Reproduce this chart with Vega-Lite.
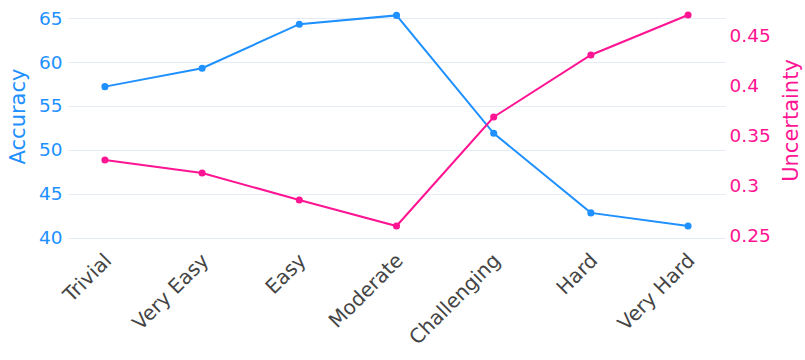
{
  "$schema": "https://vega.github.io/schema/vega-lite/v6.json",
  "width": 657,
  "height": 240,
  "autosize": "none",
  "padding": {"left": 68, "top": 5, "right": 80, "bottom": 115},
  "background": "white",
  "config": {
    "font": "DejaVu Sans",
    "view": {"stroke": null}
  },
  "data": {
    "values": [
      {"level": "Trivial", "accuracy": 57.2, "uncertainty": 0.325},
      {"level": "Very Easy", "accuracy": 59.3, "uncertainty": 0.312},
      {"level": "Easy", "accuracy": 64.3, "uncertainty": 0.285},
      {"level": "Moderate", "accuracy": 65.3, "uncertainty": 0.259},
      {"level": "Challenging", "accuracy": 51.9, "uncertainty": 0.368},
      {"level": "Hard", "accuracy": 42.85, "uncertainty": 0.43},
      {"level": "Very Hard", "accuracy": 41.35, "uncertainty": 0.47}
    ]
  },
  "encoding": {
    "x": {
      "field": "level",
      "type": "ordinal",
      "sort": null,
      "scale": {"type": "point", "padding": 0.38},
      "axis": {
        "title": null,
        "labelAngle": -45,
        "labelAlign": "right",
        "labelBaseline": "top",
        "labelFontSize": 20,
        "labelColor": "#444444",
        "labelOffset": -4,
        "domain": false,
        "ticks": false,
        "grid": false,
        "labelPadding": 5
      }
    }
  },
  "layer": [
    {
      "mark": {"type": "line", "color": "#1E90FF", "strokeWidth": 2, "point": {"filled": true, "size": 50, "color": "#1E90FF"}},
      "encoding": {
        "y": {
          "field": "accuracy",
          "type": "quantitative",
          "scale": {"domain": [39.2, 66.48], "nice": false, "zero": false},
          "axis": {
            "title": "Accuracy",
            "titleColor": "#1E90FF",
            "titleFontSize": 21,
            "titleFontWeight": "normal",
            "titlePadding": 10,
            "titleY": 111,
            "labelColor": "#1E90FF",
            "labelFontSize": 18.5,
            "values": [40, 45, 50, 55, 60, 65],
            "domain": false,
            "ticks": false,
            "labelPadding": 6,
            "grid": true,
            "gridColor": "#E5ECF6",
            "gridWidth": 1
          }
        }
      }
    },
    {
      "mark": {"type": "line", "color": "#FF1493", "strokeWidth": 2, "point": {"filled": true, "size": 50, "color": "#FF1493"}},
      "encoding": {
        "y": {
          "field": "uncertainty",
          "type": "quantitative",
          "scale": {"domain": [0.24, 0.48], "nice": false, "zero": false},
          "axis": {
            "orient": "right",
            "title": "Uncertainty",
            "titleColor": "#FF1493",
            "titleFontSize": 21,
            "titleFontWeight": "normal",
            "titleAngle": 270,
            "titleAlign": "center",
            "titleBaseline": "middle",
            "titleX": 66,
            "titleY": 115,
            "labelColor": "#FF1493",
            "labelFontSize": 18.5,
            "values": [0.25, 0.3, 0.35, 0.4, 0.45],
            "format": "~g",
            "domain": false,
            "ticks": false,
            "labelPadding": 4,
            "grid": false
          }
        }
      }
    }
  ],
  "resolve": {"scale": {"y": "independent"}}
}
